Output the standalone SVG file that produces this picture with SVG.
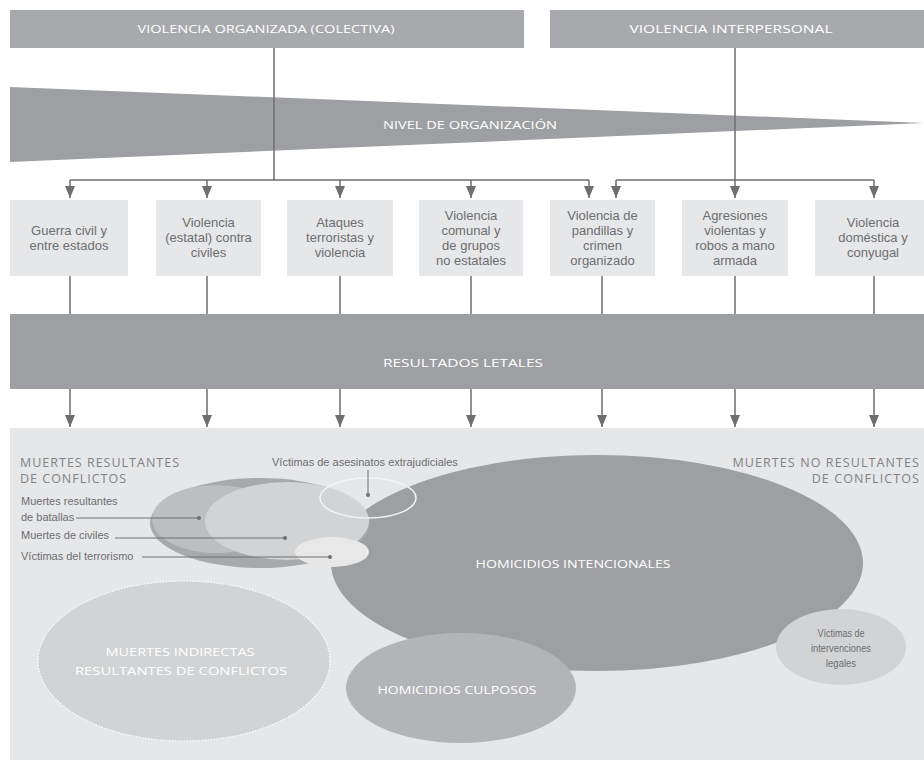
<svg xmlns="http://www.w3.org/2000/svg" width="924" height="762" viewBox="0 0 924 762">
<style>
.hdr{fill:#a7a9ac}
.bar{fill:#9d9fa2}
.box{fill:#e6e7e8}
.wt{fill:#ffffff;font-family:"Open Sans","Noto Sans",sans-serif;font-size:11.5px;text-anchor:middle}
.bt{fill:#6d6e71;font-family:"Liberation Sans",Arial,sans-serif;font-size:13px;text-anchor:middle}
.st{fill:#6d6e71;font-family:"Liberation Sans",Arial,sans-serif;font-size:11px}
.cap{fill:#808285;font-family:"Open Sans","Noto Sans",sans-serif;font-size:12.5px}
.ln{stroke:#6d6e71;stroke-width:1.5;fill:none}
.ld{stroke:#6d6e71;stroke-width:1;fill:none}
.dot{fill:#6d6e71}
</style>
<defs>
<marker id="arr" viewBox="0 0 12 10" refX="12" refY="5" markerWidth="12" markerHeight="10" markerUnits="userSpaceOnUse" orient="auto">
<path d="M0,0 L12,5 L0,10 Z" fill="#6d6e71"/>
</marker>
</defs>
<rect width="924" height="762" fill="#ffffff"/>

<g id="violencia-organizada">
<rect class="hdr" x="10" y="10" width="514" height="38"/>
<text class="wt" x="266" y="33" textLength="257" lengthAdjust="spacingAndGlyphs">VIOLENCIA ORGANIZADA (COLECTIVA)</text>
</g>
<g id="violencia-interpersonal">
<rect class="hdr" x="550" y="10" width="374" height="38"/>
<text class="wt" x="731" y="33" textLength="203" lengthAdjust="spacingAndGlyphs">VIOLENCIA INTERPERSONAL</text>
</g>

<g id="nivel-organizacion">
<polygon class="bar" points="10,87 924,123 10,162"/>
<text class="wt" x="470" y="129" textLength="174" lengthAdjust="spacingAndGlyphs">NIVEL DE ORGANIZACIÓN</text>
</g>

<g id="guerra-civil">
<rect class="box" x="10" y="200" width="118" height="76"/>
<text class="bt"><tspan x="69" y="235">Guerra civil y</tspan><tspan x="69" y="250">entre estados</tspan></text>
</g>
<g id="violencia-estatal">
<rect class="box" x="156" y="200" width="105" height="76"/>
<text class="bt"><tspan x="208.5" y="227">Violencia</tspan><tspan x="208.5" y="242">(estatal) contra</tspan><tspan x="208.5" y="257">civiles</tspan></text>
</g>
<g id="ataques-terroristas">
<rect class="box" x="287" y="200" width="106" height="76"/>
<text class="bt"><tspan x="340" y="227">Ataques</tspan><tspan x="340" y="242">terroristas y</tspan><tspan x="340" y="257">violencia</tspan></text>
</g>
<g id="violencia-comunal">
<rect class="box" x="419" y="200" width="104" height="76"/>
<text class="bt"><tspan x="471" y="219.5">Violencia</tspan><tspan x="471" y="234.5">comunal y</tspan><tspan x="471" y="249.5">de grupos</tspan><tspan x="471" y="264.5">no estatales</tspan></text>
</g>
<g id="violencia-pandillas">
<rect class="box" x="550" y="200" width="105" height="76"/>
<text class="bt"><tspan x="602.5" y="219.5">Violencia de</tspan><tspan x="602.5" y="234.5">pandillas y</tspan><tspan x="602.5" y="249.5">crimen</tspan><tspan x="602.5" y="264.5">organizado</tspan></text>
</g>
<g id="agresiones-violentas">
<rect class="box" x="682" y="200" width="106" height="76"/>
<text class="bt"><tspan x="735" y="219.5">Agresiones</tspan><tspan x="735" y="234.5">violentas y</tspan><tspan x="735" y="249.5">robos a mano</tspan><tspan x="735" y="264.5">armada</tspan></text>
</g>
<g id="violencia-domestica">
<rect class="box" x="815" y="200" width="109" height="76"/>
<text class="bt"><tspan x="873" y="227">Violencia</tspan><tspan x="873" y="242">doméstica y</tspan><tspan x="873" y="257">conyugal</tspan></text>
</g>

<g id="resultados-letales">
<rect class="bar" x="10" y="314" width="914" height="75"/>
<text class="wt" x="463" y="367" textLength="160" lengthAdjust="spacingAndGlyphs">RESULTADOS LETALES</text>
</g>

<g id="connectors">
<path class="ln" d="M274,48 V180 M735,48 V180 M70,180 H589 M616,180 H874"/>
<path class="ln" marker-end="url(#arr)" d="M70,180 V198"/>
<path class="ln" marker-end="url(#arr)" d="M207,180 V198"/>
<path class="ln" marker-end="url(#arr)" d="M340,180 V198"/>
<path class="ln" marker-end="url(#arr)" d="M471,180 V198"/>
<path class="ln" marker-end="url(#arr)" d="M589,180 V198"/>
<path class="ln" marker-end="url(#arr)" d="M616,180 V198"/>
<path class="ln" marker-end="url(#arr)" d="M735,180 V198"/>
<path class="ln" marker-end="url(#arr)" d="M874,180 V198"/>
<path class="ln" d="M70,276 V314 M207,276 V314 M340,276 V314 M471,276 V314 M602,276 V314 M735,276 V314 M874,276 V314"/>
<path class="ln" marker-end="url(#arr)" d="M70,389 V427"/>
<path class="ln" marker-end="url(#arr)" d="M207,389 V427"/>
<path class="ln" marker-end="url(#arr)" d="M340,389 V427"/>
<path class="ln" marker-end="url(#arr)" d="M471,389 V427"/>
<path class="ln" marker-end="url(#arr)" d="M602,389 V427"/>
<path class="ln" marker-end="url(#arr)" d="M735,389 V427"/>
<path class="ln" marker-end="url(#arr)" d="M874,389 V427"/>
</g>

<g id="panel">
<rect class="box" x="10" y="428" width="914" height="332"/>
<text class="cap" letter-spacing="1.0"><tspan x="20" y="467">MUERTES RESULTANTES</tspan><tspan x="20" y="483">DE CONFLICTOS</tspan></text>
<text class="cap" letter-spacing="1.1" text-anchor="end"><tspan x="920" y="467">MUERTES NO RESULTANTES</tspan><tspan x="920" y="483">DE CONFLICTOS</tspan></text>
</g>

<g id="muertes-indirectas">
<ellipse cx="184" cy="661" rx="146" ry="80" fill="#d1d3d4" stroke="#ffffff" stroke-width="1.2" stroke-dasharray="1.5 1.5"/>
<text class="wt" font-size="12.5"><tspan x="180" y="656" textLength="149" lengthAdjust="spacingAndGlyphs">MUERTES INDIRECTAS</tspan><tspan x="181" y="675" textLength="212" lengthAdjust="spacingAndGlyphs">RESULTANTES DE CONFLICTOS</tspan></text>
</g>

<g id="homicidios-intencionales">
<ellipse cx="597" cy="563" rx="266" ry="108" fill="#9d9fa2"/>
<text class="wt" font-size="12.5" x="573" y="568" textLength="195" lengthAdjust="spacingAndGlyphs">HOMICIDIOS INTENCIONALES</text>
</g>

<g id="homicidios-culposos">
<ellipse cx="461" cy="688" rx="115" ry="55" fill="#b3b4b7"/>
<text class="wt" font-size="12.5" x="457" y="694" textLength="159" lengthAdjust="spacingAndGlyphs">HOMICIDIOS CULPOSOS</text>
</g>

<g id="intervenciones-legales">
<ellipse cx="841" cy="647" rx="65" ry="38" fill="#d1d3d4"/>
<text class="st" text-anchor="middle" fill="#808285" font-size="10.5"><tspan x="841" y="637" textLength="47" lengthAdjust="spacingAndGlyphs">Víctimas de</tspan><tspan x="841" y="652" textLength="60" lengthAdjust="spacingAndGlyphs">intervenciones</tspan><tspan x="841" y="667" textLength="30" lengthAdjust="spacingAndGlyphs">legales</tspan></text>
</g>

<g id="muertes-conflictos">
<ellipse cx="260" cy="523" rx="110" ry="45" fill="#a7a9ac"/>
</g>
<g id="muertes-batallas">
<ellipse cx="216" cy="519" rx="64" ry="34" fill="#bcbec0"/>
</g>
<g id="muertes-civiles">
<ellipse cx="287" cy="521" rx="82" ry="39" fill="#d1d3d4"/>
</g>
<g id="victimas-terrorismo">
<ellipse cx="332" cy="552" rx="37" ry="15" fill="#e8e8e9"/>
</g>
<g id="asesinatos-extrajudiciales">
<ellipse cx="368" cy="498" rx="48" ry="20" fill="none" stroke="#f4f4f5" stroke-width="1.5"/>
</g>

<g id="labels">
<text class="st"><tspan x="21" y="505">Muertes resultantes</tspan><tspan x="21" y="521">de batallas</tspan></text>
<text class="st" x="21" y="539">Muertes de civiles</text>
<text class="st" x="21" y="560">Víctimas del terrorismo</text>
<text class="st" x="272" y="466">Víctimas de asesinatos extrajudiciales</text>
<path class="ld" d="M76,518 H199 M115,538 H285 M142,557 H330 M368,470 V495"/>
<circle class="dot" cx="199" cy="518" r="2"/>
<circle class="dot" cx="285" cy="538" r="2"/>
<circle class="dot" cx="330" cy="557" r="2"/>
<circle class="dot" cx="368" cy="495" r="2"/>
</g>
</svg>
